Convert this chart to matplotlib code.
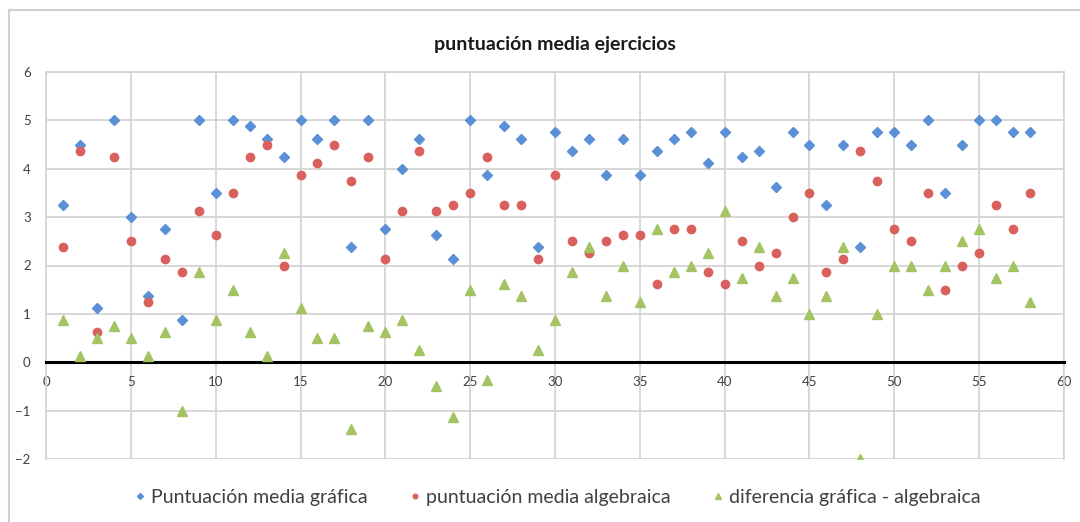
import matplotlib.pyplot as plt
from matplotlib.patches import Rectangle

# Data (exercise number 1..58)
ejercicio = list(range(1, 59))

media_grafica = [
    3.25, 4.5, 1.125, 5, 3, 1.375, 2.75, 0.875, 5, 3.5,
    5, 4.875, 4.625, 4.25, 5, 4.625, 5, 2.375, 5, 2.75,
    4, 4.625, 2.625, 2.125, 5, 3.875, 4.875, 4.625, 2.375, 4.75,
    4.375, 4.625, 3.875, 4.625, 3.875, 4.375, 4.625, 4.75, 4.125, 4.75,
    4.25, 4.375, 3.625, 4.75, 4.5, 3.25, 4.5, 2.375, 4.75, 4.75,
    4.5, 5, 3.5, 4.5, 5, 5, 4.75, 4.75,
]

media_algebraica = [
    2.375, 4.375, 0.625, 4.25, 2.5, 1.25, 2.125, 1.875, 3.125, 2.625,
    3.5, 4.25, 4.5, 2, 3.875, 4.125, 4.5, 3.75, 4.25, 2.125,
    3.125, 4.375, 3.125, 3.25, 3.5, 4.25, 3.25, 3.25, 2.125, 3.875,
    2.5, 2.25, 2.5, 2.625, 2.625, 1.625, 2.75, 2.75, 1.875, 1.625,
    2.5, 2, 2.25, 3, 3.5, 1.875, 2.125, 4.375, 3.75, 2.75,
    2.5, 3.5, 1.5, 2, 2.25, 3.25, 2.75, 3.5,
]

diferencia = [
    0.875, 0.125, 0.5, 0.75, 0.5, 0.125, 0.625, -1, 1.875, 0.875,
    1.5, 0.625, 0.125, 2.25, 1.125, 0.5, 0.5, -1.375, 0.75, 0.625,
    0.875, 0.25, -0.5, -1.125, 1.5, -0.375, 1.625, 1.375, 0.25, 0.875,
    1.875, 2.375, 1.375, 2, 1.25, 2.75, 1.875, 2, 2.25, 3.125,
    1.75, 2.375, 1.375, 1.75, 1, 1.375, 2.375, -2, 1, 2,
    2, 1.5, 2, 2.5, 2.75, 1.75, 2, 1.25,
]

x_ticks = list(range(0, 61, 5))
y_ticks = list(range(-2, 7))

plt.rcParams["font.family"] = ["Lato", "DejaVu Sans"]

fig = plt.figure(figsize=(10.8, 5.22), dpi=100)

# chart area border (Excel style)
fig.patches.append(Rectangle((9 / 1080, -0.1), 1.2, 1 - 10 / 522 + 0.1,
                             transform=fig.transFigure, fill=False,
                             edgecolor="#d0d0d0", linewidth=1.5))

ax = fig.add_axes([46 / 1080, 1 - 459 / 522, (1064 - 46) / 1080, (459 - 72) / 522])

ax.plot(ejercicio, media_grafica, linestyle="none", marker="D", markersize=5.5,
        color="#5b8fd6", label="Puntuación media gráfica", zorder=3)
ax.plot(ejercicio, media_algebraica, linestyle="none", marker="o", markersize=6,
        color="#d9605c", label="puntuación media algebraica", zorder=3)
ax.plot(ejercicio, diferencia, linestyle="none", marker="^", markersize=7,
        color="#a3c462", label="diferencia gráfica - algebraica", zorder=3)

ax.set_xlim(0, 60)
ax.set_ylim(-2, 6)
ax.set_xticks(x_ticks)
ax.set_yticks(y_ticks)
ax.grid(True, color="#d4d4d4", linewidth=1.3)
ax.set_axisbelow(True)

for side in ["left", "right", "top"]:
    ax.spines[side].set_color("#d4d4d4")
    ax.spines[side].set_linewidth(1.3)
ax.spines["bottom"].set_position(("data", 0))
ax.spines["bottom"].set_color("black")
ax.spines["bottom"].set_linewidth(2.2)
ax.spines["bottom"].set_zorder(2.5)

ax.tick_params(axis="both", length=0, labelsize=9.5, labelcolor="#404040")
ax.tick_params(axis="x", pad=10)
ax.tick_params(axis="y", pad=11)

ax.set_title("puntuación media ejercicios", fontsize=14, fontweight="bold",
             color="#1a1a1a", pad=16)

fig.legend(loc="center", bbox_to_anchor=(558 / 1080, 1 - 497 / 522), ncol=3,
           frameon=False, fontsize=14, markerscale=0.55, handlelength=0.5,
           handletextpad=0.3, columnspacing=2.2, labelcolor="#404040")

fig.savefig("out.png", dpi=100)
